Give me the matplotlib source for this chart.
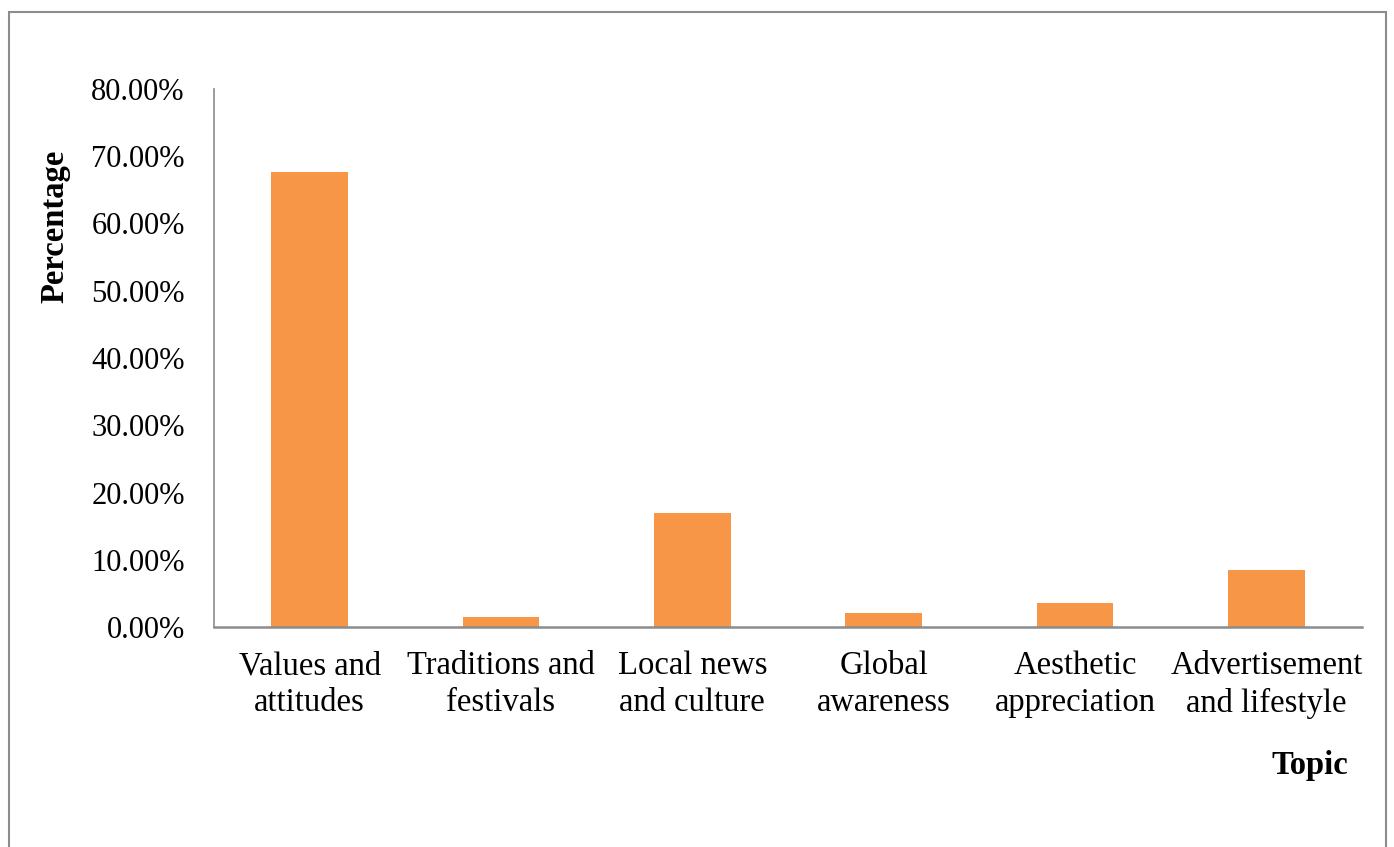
import matplotlib.pyplot as plt
from matplotlib.patches import Rectangle
from matplotlib.ticker import FuncFormatter

topics = ['Values and\nattitudes', 'Traditions and\nfestivals', 'Local news\nand culture',
          'Global\nawareness', 'Aesthetic\nappreciation', 'Advertisement\nand lifestyle']
percentages = [67.6, 1.5, 16.9, 2.1, 3.6, 8.5]
yticks = [0, 10, 20, 30, 40, 50, 60, 70, 80]

plt.rcParams['font.family'] = ['Liberation Serif', 'DejaVu Serif']

fig = plt.figure(figsize=(13.94, 8.47), dpi=100)
ax = fig.add_axes([214 / 1394, 1 - 627 / 847, (1362 - 214) / 1394, (627 - 89) / 847])

ax.bar(range(len(topics)), percentages, width=0.4, color='#F79646')
ax.set_xlim(-0.5, len(topics) - 0.5)
ax.set_ylim(0, 80)
ax.set_yticks(yticks)
ax.yaxis.set_major_formatter(FuncFormatter(lambda v, p: f'{v:.2f}%'))
ax.set_xticks(range(len(topics)))
ax.set_xticklabels(topics, linespacing=1.28)
ax.tick_params(axis='both', length=0)
ax.tick_params(axis='y', pad=21, labelsize=22)
ax.tick_params(axis='x', pad=17, labelsize=23.5)

for side in ['top', 'right']:
    ax.spines[side].set_visible(False)
ax.spines['left'].set_color('#8c8c8c')
ax.spines['left'].set_linewidth(1.2)
ax.spines['bottom'].set_color('#8c8c8c')
ax.spines['bottom'].set_linewidth(1.8)

fig.text(55 / 1394, 1 - 226 / 847, 'Percentage', rotation=90, fontsize=23.5,
         fontweight='bold', ha='center', va='center')
fig.text(1310 / 1394, 1 - 765 / 847, 'Topic', fontsize=23.5,
         fontweight='bold', ha='center', va='center')

# outer chart frame
fig.patches.append(Rectangle((9 / 1394, -0.05), (1386 - 9) / 1394, 1.05 - 12 / 847,
                             transform=fig.transFigure, fill=False,
                             edgecolor='#8c8c8c', linewidth=1.5))

fig.savefig('out.png', dpi=100)
